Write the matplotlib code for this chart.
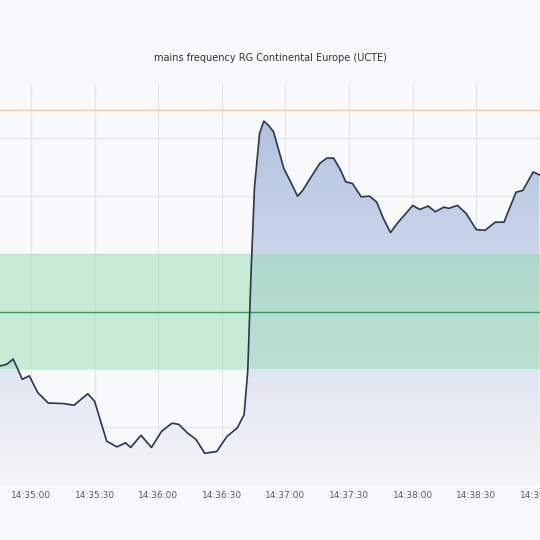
import numpy as np
import matplotlib
matplotlib.use("Agg")
from matplotlib import pyplot as plt
from matplotlib.path import Path
from matplotlib.patches import PathPatch

# seconds since 14:35:00, frequency deviation in mHz from 50 Hz
t_sec = [-14.6, -11.4, -8.4, -6.5, -4.1, -0.8, 3.2, 8.1, 15.4, 20.3, 23.5, 26.8, 30.0,
         35.7, 40.5, 44.6, 47.0, 51.9, 56.8, 61.6, 66.5, 69.7, 73.8, 77.8, 81.9, 87.6,
         92.4, 97.3, 100.5, 102.2, 103.8, 105.4, 107.8, 109.8, 111.9, 114.3, 116.8,
         119.2, 122.4, 125.7, 128.1, 132.2, 136.2, 139.5, 142.7, 146.0, 148.4, 151.6,
         155.7, 159.7, 163.0, 166.2, 169.5, 172.7, 176.0, 180.0, 183.3, 187.3, 190.6,
         194.6, 197.0, 201.1, 205.2, 210.0, 214.1, 218.9, 223.0, 228.7, 231.9, 236.8, 239.7]
dev_mhz = [-9.4, -9.1, -8.2, -9.7, -11.7, -11.1, -14.0, -15.8, -15.9, -16.2, -15.2, -14.2,
           -15.5, -22.4, -23.4, -22.7, -23.5, -21.4, -23.5, -20.7, -19.3, -19.5, -21.0,
           -22.1, -24.5, -24.2, -21.6, -20.1, -17.8, -10.3, 7.1, 21.6, 30.9, 33.0, 32.3,
           31.2, 28.0, 24.8, 22.5, 20.0, 21.0, 23.4, 25.7, 26.6, 26.6, 24.5, 22.5, 22.2,
           19.9, 20.0, 19.0, 16.1, 13.7, 15.3, 16.7, 18.4, 17.7, 18.3, 17.3, 18.1, 17.9,
           18.4, 17.0, 14.2, 14.1, 15.5, 15.5, 20.7, 21.0, 24.2, 23.7]
tick_secs = [0, 30, 60, 90, 120, 150, 180, 210, 240]
tick_labels = ["14:35:00", "14:35:30", "14:36:00", "14:36:30", "14:37:00",
               "14:37:30", "14:38:00", "14:38:30", "14:39:00"]
band = (-10, 10)
nominal = 0
upper_limit = 35

t = np.array(t_sec)
f = 50 + np.array(dev_mhz) / 1000.0
ymin, ymax = 50 - 0.030, 50 + 0.0396
xmin, xmax = -14.6, 239.7

bg = "#f8f9fb"
fig = plt.figure(figsize=(5.4, 5.4), dpi=100, facecolor=bg)
ax = fig.add_axes([0, 55 / 540, 1, 402 / 540])
ax.set_facecolor(bg)
ax.set_xlim(xmin, xmax)
ax.set_ylim(ymin, ymax)

# grid
for v in np.arange(49.97, 50.045, 0.01):
    ax.axhline(v, color="#e3e5ea", lw=0.9, zorder=0)
for s in tick_secs:
    ax.axvline(s, color="#e3e5ea", lw=0.9, zorder=0)

# gradient fill under curve
verts = [(t[0], ymin)] + list(zip(t, f)) + [(t[-1], ymin)]
clip = PathPatch(Path(verts), facecolor="none", edgecolor="none")
ax.add_patch(clip)
grad = np.linspace(1, 0, 256).reshape(-1, 1)
cmap = matplotlib.colors.LinearSegmentedColormap.from_list("g", ["#f4f5f9", "#b3c3e0"])
im = ax.imshow(grad, cmap=cmap, aspect="auto", extent=[xmin, xmax, ymin, f.max()],
               zorder=1, vmin=0, vmax=1)
im.set_clip_path(clip)

ax.axhspan(50 + band[0] / 1000, 50 + band[1] / 1000, color="#8fdcaa", alpha=0.45,
           lw=0, zorder=2)
ax.axhline(50 + nominal / 1000, color="#3a9a5c", lw=1.0, zorder=3)
ax.axhline(50 + upper_limit / 1000, color="#f6c9a0", lw=1.0, zorder=3)
ax.plot(t, f, color="#273656", lw=1.2, zorder=4)

ax.set_xticks(tick_secs)
ax.set_xticklabels(tick_labels, fontsize=6.5, color="#555a63")
ax.tick_params(axis="x", length=0, pad=4)
ax.set_yticks([])
for sp in ax.spines.values():
    sp.set_visible(False)

fig.text(0.5, 1 - 58 / 540, "mains frequency RG Continental Europe (UCTE)",
         ha="center", va="center", fontsize=7, color="#333333")
fig.savefig("out.png", dpi=100, facecolor=bg)
